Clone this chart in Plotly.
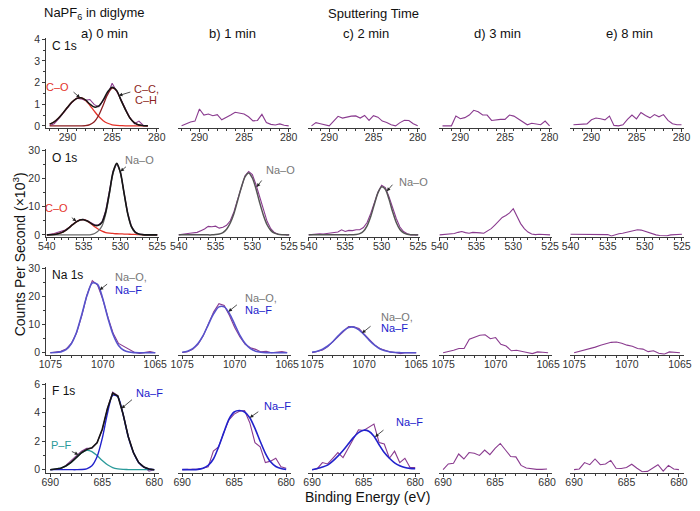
import plotly.graph_objects as go

# ---------------- energy grids (eV) ----------------
C1S_EV = [292.0, 291.5, 291.0, 290.5, 290.0, 289.5, 289.0, 288.5, 288.0, 287.5, 287.0, 286.5,
          286.0, 285.5, 285.0, 284.5, 284.0, 283.5, 283.0, 282.5, 282.0, 281.5, 281.0, 280.5, 280.0]
O1S_EV = [540.0, 539.5, 539.0, 538.5, 538.0, 537.5, 537.0, 536.5, 536.0, 535.5, 535.0, 534.5,
          534.0, 533.5, 533.0, 532.5, 532.0, 531.5, 531.0, 530.5, 530.0, 529.5, 529.0, 528.5,
          528.0, 527.5, 527.0, 526.5, 526.0, 525.5, 525.0]
NA1S_EV = [1075.0, 1074.5, 1074.0, 1073.5, 1073.0, 1072.5, 1072.0, 1071.5, 1071.0, 1070.5, 1070.0,
           1069.5, 1069.0, 1068.5, 1068.0, 1067.5, 1067.0, 1066.5, 1066.0, 1065.5, 1065.0]
F1S_EV = [690.0, 689.5, 689.0, 688.5, 688.0, 687.5, 687.0, 686.5, 686.0, 685.5, 685.0,
          684.5, 684.0, 683.5, 683.0, 682.5, 682.0, 681.5, 681.0, 680.5, 680.0]

# ---------------- C 1s (x10^3 counts/s) ----------------
c1s_raw_a = [0.02, 0.10, 0.32, 0.58, 0.85, 1.08, 1.28, 1.25, 1.18, 1.22, 0.98, 0.88, 1.18, 1.45,
             1.97, 1.62, 1.22, 0.78, 0.38, 0.10, 0.22, 0.02, 0.00]
c1s_co_a = [0.08, 0.18, 0.36, 0.60, 0.86, 1.10, 1.26, 1.30, 1.19, 0.95, 0.68, 0.43, 0.24, 0.12,
            0.05, 0.02, 0.01, 0.00, 0.00, 0.00, 0.00, 0.00, 0.00]
c1s_cc_a = [0.00, 0.00, 0.00, 0.00, 0.00, 0.00, 0.00, 0.00, 0.01, 0.06, 0.19, 0.49, 0.96, 1.46,
            1.74, 1.62, 1.17, 0.74, 0.36, 0.14, 0.04, 0.01, 0.00]
c1s_env_a = [0.08, 0.18, 0.36, 0.60, 0.86, 1.10, 1.26, 1.30, 1.20, 1.01, 0.87, 0.92, 1.20, 1.58,
             1.79, 1.64, 1.18, 0.74, 0.36, 0.14, 0.04, 0.01, 0.00]
c1s_raw_b = [0.00, 0.08, 0.18, 0.22, 0.78, 0.50, 0.55, 0.47, 0.52, 0.28, 0.38, 0.50, 0.63, 0.60,
             0.55, 0.42, 0.23, 0.25, 0.53, 0.15, 0.07, 0.04, 0.09, 0.03, 0.00]
c1s_raw_c = [0.00, 0.15, 0.10, 0.05, 0.00, 0.22, 0.44, 0.36, 0.41, 0.45, 0.46, 0.36, 0.48, 0.25,
             0.47, 0.40, 0.22, 0.16, 0.05, 0.00, 0.15, 0.26, 0.25, 0.10, 0.00]
c1s_raw_d = [0.00, 0.00, 0.00, 0.45, 0.33, 0.38, 0.50, 0.72, 0.65, 0.50, 0.50, 0.25, 0.28, 0.30,
             0.30, 0.50, 0.45, 0.32, 0.22, 0.05, 0.12, 0.10, 0.05, 0.22, 0.00]
c1s_raw_e = [0.05, 0.06, 0.08, 0.09, 0.28, 0.36, 0.33, 0.28, 0.45, 0.02, 0.00, 0.05, 0.30, 0.50,
             0.32, 0.62, 0.48, 0.37, 0.52, 0.42, 0.52, 0.25, 0.10, 0.05, 0.05]

# ---------------- O 1s ----------------
o1s_raw_a = [0.0, 0.2, 0.5, 0.9, 1.2, 1.7, 2.6, 3.7, 4.7, 5.4, 5.5, 5.0, 4.2, 3.6, 3.5, 4.6,
             8.6, 15.4, 22.6, 25.3, 22.4, 14.9, 7.6, 3.0, 1.0, 0.3, 0.1, 0.0, 0.0, 0.0, 0.0]
o1s_co_a = [0.0, 0.05, 0.15, 0.4, 0.8, 1.5, 2.5, 3.6, 4.6, 5.3, 5.4, 4.9, 4.0, 2.9, 2.0, 1.3,
            0.8, 0.6, 0.5, 0.4, 0.35, 0.3, 0.25, 0.2, 0.15, 0.1, 0.05, 0.0, 0.0, 0.0, 0.0]
o1s_nao_a = [0.0, 0.0, 0.0, 0.0, 0.0, 0.0, 0.0, 0.0, 0.0, 0.0, 0.0, 0.0, 0.1, 0.5, 1.4, 3.2,
             7.4, 14.4, 21.8, 25.0, 21.8, 14.4, 7.2, 2.7, 0.8, 0.2, 0.05, 0.0, 0.0, 0.0, 0.0]
o1s_env_a = [0.0, 0.05, 0.15, 0.4, 0.8, 1.5, 2.5, 3.6, 4.6, 5.3, 5.4, 4.9, 4.1, 3.4, 3.4, 4.5,
             8.2, 15.0, 22.3, 25.4, 22.15, 14.7, 7.45, 2.9, 0.95, 0.3, 0.1, 0.0, 0.0, 0.0, 0.0]
o1s_raw_b = [0.0, 0.3, 0.4, 0.6, 0.7, 0.9, 1.5, 2.1, 3.0, 2.9, 3.1, 2.4, 2.7, 3.4, 5.0, 8.2,
             12.6, 17.2, 21.0, 22.5, 21.4, 17.8, 13.2, 8.6, 4.8, 2.2, 0.8, 0.2, 0.1, 0.0, 0.0]
o1s_nao_b = [0.0, 0.0, 0.0, 0.0, 0.0, 0.0, 0.0, 0.0, 0.0, 0.0, 0.1, 0.3, 0.8, 2.0, 4.2, 7.6,
             12.2, 16.8, 20.6, 22.0, 20.2, 16.3, 11.4, 7.0, 3.6, 1.6, 0.6, 0.2, 0.05, 0.0, 0.0]
o1s_raw_c = [0.0, 0.2, 0.3, 0.4, 0.3, 0.5, 0.6, 0.7, 1.0, 1.8, 1.2, 1.6, 1.5, 1.8, 1.8, 2.6,
             4.4, 7.6, 11.4, 15.2, 17.6, 16.8, 13.6, 9.6, 5.8, 2.8, 1.2, 0.4, 0.0, 0.1, 0.0]
o1s_nao_c = [0.0, 0.0, 0.0, 0.0, 0.0, 0.0, 0.0, 0.0, 0.0, 0.0, 0.0, 0.0, 0.05, 0.13, 0.45, 1.3,
             3.2, 6.5, 10.9, 15.0, 17.1, 16.2, 12.7, 8.2, 4.4, 1.9, 0.7, 0.2, 0.05, 0.0, 0.0]
o1s_raw_d = [0.0, 0.1, 0.1, 0.2, 0.5, 0.9, 1.2, 0.8, 0.6, 0.9, 0.9, 0.7, 0.6, 1.3, 2.2, 3.5,
             4.9, 6.2, 6.9, 7.8, 9.3, 6.6, 4.0, 2.2, 1.0, 0.3, 0.1, 0.2, 0.2, 0.0, 0.0]
o1s_raw_e = [0.2, 0.2, 0.3, 0.3, 0.2, 0.2, 0.2, 0.3, 0.2, 0.2, 0.1, -0.4, 0.1, 0.4, 0.6, 0.9,
             1.3, 1.6, 1.8, 1.7, 1.3, 0.8, 0.3, 0.0, -0.2, -0.3, -0.3, 0.0, 0.1, 0.3, 0.2]

# ---------------- Na 1s ----------------
na_raw_a = [0.0, 0.2, 0.5, 1.3, 3.3, 7.0, 13.2, 20.6, 25.6, 24.0, 19.0, 12.5, 6.8, 3.3, 2.2,
            1.3, 0.2, -0.2, 0.0, 0.4, 0.0]
na_fit_a = [0.01, 0.07, 0.31, 1.1, 3.2, 7.3, 13.6, 20.4, 24.8, 24.3, 19.2, 12.2, 6.3, 2.6, 0.9,
            0.24, 0.05, 0.0, 0.0, 0.0, 0.0]
na_raw_b = [0.1, 0.4, 1.2, 3.0, 6.0, 10.4, 14.6, 17.4, 16.8, 13.2, 9.0, 5.6, 3.0, 1.8, 1.2,
            0.3, 0.5, 0.0, 0.2, 0.4, 0.1]
na_fit_b = [0.18, 0.56, 1.48, 3.3, 6.2, 10.1, 13.9, 16.3, 16.3, 13.9, 10.1, 6.2, 3.3, 1.48, 0.56,
            0.18, 0.05, 0.01, 0.0, 0.0, 0.0]
na_raw_c = [0.0, 0.4, 1.0, 2.2, 3.9, 5.8, 7.6, 9.3, 9.2, 8.6, 6.6, 4.6, 2.8, 1.5, 0.8,
            0.3, 0.1, -0.3, 0.1, 0.0, 0.0]
na_fit_c = [0.23, 0.57, 1.24, 2.4, 4.0, 6.0, 7.8, 9.0, 9.1, 8.1, 6.4, 4.4, 2.7, 1.4, 0.7,
            0.3, 0.1, 0.03, 0.0, 0.0, 0.0]
na_raw_d = [0.0, 0.4, 0.9, 1.5, 1.5, 4.8, 5.5, 6.2, 6.4, 5.0, 5.4, 3.0, 2.4, 0.7, 0.9,
            0.4, 0.1, -0.3, 0.3, 0.2, 0.0]
na_raw_e = [0.0, 0.5, 0.8, 1.3, 2.0, 2.7, 3.3, 3.7, 3.8, 3.4, 2.7, 2.3, 1.5, 1.3, 0.4,
            0.7, -0.2, -0.5, 0.3, 0.1, 0.0]

# ---------------- F 1s ----------------
f_raw_a = [0.0, 0.0, 0.05, 0.3, 0.65, 1.0, 1.3, 1.5, 1.5, 1.9, 2.8, 4.3, 5.45, 5.2, 3.9,
           2.35, 1.2, 0.5, 0.2, -0.1, 0.0]
f_pf_a = [0.0, 0.04, 0.1, 0.26, 0.51, 0.85, 1.18, 1.35, 1.27, 0.99, 0.64, 0.34, 0.15, 0.06, 0.02,
          0.01, 0.0, 0.0, 0.0, 0.0, 0.0]
f_naf_a = [0.0, 0.0, 0.0, 0.0, 0.0, 0.0, 0.01, 0.06, 0.27, 0.9, 2.2, 3.95, 5.22, 5.11, 3.89,
           2.3, 1.2, 0.5, 0.18, 0.05, 0.0]
f_env_a = [0.0, 0.04, 0.1, 0.26, 0.51, 0.85, 1.19, 1.41, 1.54, 1.89, 2.84, 4.29, 5.37, 5.17, 3.91,
           2.31, 1.2, 0.5, 0.18, 0.05, 0.0]
f_raw_b = [0.0, 0.0, 0.0, 0.05, 0.1, 0.2, 1.3, 1.6, 2.6, 3.5, 3.9, 4.1, 4.15, 3.3, 1.9,
           1.6, 0.5, 0.6, 0.8, 0.2, 0.1]
f_fit_b = [0.0, 0.0, 0.0, 0.02, 0.1, 0.3, 0.75, 1.6, 2.6, 3.55, 4.05, 4.15, 4.05, 3.65, 2.9,
           2.0, 1.15, 0.55, 0.22, 0.08, 0.02]
f_raw_c = [0.0, 0.07, 0.5, 0.4, 0.8, 1.2, 0.85, 1.5, 2.2, 2.8, 2.75, 2.95, 3.2, 1.9, 1.8,
           0.8, 1.3, 0.5, 0.8, 0.15, 0.15]
f_fit_c = [0.0, 0.08, 0.18, 0.32, 0.6, 0.95, 1.35, 1.8, 2.25, 2.6, 2.77, 2.7, 2.35, 1.75, 1.2,
           0.8, 0.48, 0.28, 0.15, 0.09, 0.06]
f_raw_d = [0.0, 0.4, 0.45, 1.1, 0.75, 1.2, 1.15, 1.0, 1.38, 1.05, 1.5, 1.84, 1.38, 0.92, 0.9,
           0.3, 0.12, 0.05, 0.02, 0.02, 0.05]
f_raw_e = [0.0, 0.05, 0.5, 0.35, 0.75, 0.35, 0.4, 0.65, 0.1, 0.08, 0.15, 0.38, 0.1, -0.15, -0.12,
           0.1, 0.35, -0.1, 0.3, 0.05, 0.0]

# ---------------- axes ----------------
X_TICKS = [[290, 285, 280], [540, 535, 530, 525], [1075, 1070, 1065], [690, 685, 680]]
Y_DTICK = [1, 10, 10, 2]
COL_TITLES = ["a) 0 min", "b) 1 min", "c) 2 min", "d) 3 min", "e) 8 min"]
ROW_LABELS = ["C 1s", "O 1s", "Na 1s", "F 1s"]

W, H = 700, 511
FONT = "Liberation Sans, Arial, sans-serif"
AXC = "#3a3a3a"
PURPLE = "#8a3b8f"
BLACK = "#151515"
RED = "#e4332a"
DRED = "#8c1f22"
GRAY = "#6a6a6a"
VIOLET = "#5753cc"
BLUE = "#2222cc"
TEAL = "#2a9a9a"

COLS_PX = [(39, 155), (174, 290), (307, 422), (441, 557), (575, 692)]
ROWS_PX = [(34, 125), (147, 236), (267, 356), (385, 476)]
X_RANGES = [[292.4, 279.7], [540.1, 524.7], [1075.4, 1064.6], [690.4, 679.5]]
Y_RANGES = [[-0.09, 4.045], [-0.7, 30.35], [-0.7, 30.35], [-0.207, 6.07]]


def sfx(r, c):
    k = r * 5 + c + 1
    return "" if k == 1 else str(k)


fig = go.Figure()

# (row, col, x, y, colour, width, smooth)
curves = [
    (0, 0, C1S_EV[:23], c1s_raw_a, PURPLE, 1.1, False),
    (0, 0, C1S_EV[:23], c1s_co_a, RED, 1.3, True),
    (0, 0, C1S_EV[:23], c1s_cc_a, DRED, 1.3, True),
    (0, 0, C1S_EV[:23], c1s_env_a, BLACK, 1.5, True),
    (0, 1, C1S_EV, c1s_raw_b, PURPLE, 1.1, False),
    (0, 2, C1S_EV, c1s_raw_c, PURPLE, 1.1, False),
    (0, 3, C1S_EV, c1s_raw_d, PURPLE, 1.1, False),
    (0, 4, C1S_EV, c1s_raw_e, PURPLE, 1.1, False),
    (1, 0, O1S_EV, o1s_raw_a, PURPLE, 1.1, False),
    (1, 0, O1S_EV, o1s_co_a, RED, 1.3, True),
    (1, 0, O1S_EV, o1s_nao_a, GRAY, 1.2, True),
    (1, 0, O1S_EV, o1s_env_a, BLACK, 1.6, True),
    (1, 1, O1S_EV, o1s_raw_b, PURPLE, 1.1, False),
    (1, 1, O1S_EV, o1s_nao_b, "#555555", 1.5, True),
    (1, 2, O1S_EV, o1s_raw_c, PURPLE, 1.1, False),
    (1, 2, O1S_EV, o1s_nao_c, "#555555", 1.5, True),
    (1, 3, O1S_EV, o1s_raw_d, PURPLE, 1.1, False),
    (1, 4, O1S_EV, o1s_raw_e, PURPLE, 1.1, False),
    (2, 0, NA1S_EV, na_raw_a, PURPLE, 1.1, False),
    (2, 0, NA1S_EV, na_fit_a, VIOLET, 1.6, True),
    (2, 1, NA1S_EV, na_raw_b, PURPLE, 1.1, False),
    (2, 1, NA1S_EV, na_fit_b, VIOLET, 1.6, True),
    (2, 2, NA1S_EV, na_raw_c, PURPLE, 1.1, False),
    (2, 2, NA1S_EV, na_fit_c, VIOLET, 1.6, True),
    (2, 3, NA1S_EV, na_raw_d, PURPLE, 1.1, False),
    (2, 4, NA1S_EV, na_raw_e, PURPLE, 1.1, False),
    (3, 0, F1S_EV, f_raw_a, PURPLE, 1.1, False),
    (3, 0, F1S_EV, f_pf_a, TEAL, 1.3, True),
    (3, 0, F1S_EV, f_naf_a, BLUE, 1.4, True),
    (3, 0, F1S_EV, f_env_a, BLACK, 1.6, False),
    (3, 1, F1S_EV, f_raw_b, PURPLE, 1.1, False),
    (3, 1, F1S_EV, f_fit_b, BLUE, 1.6, True),
    (3, 2, F1S_EV, f_raw_c, PURPLE, 1.1, False),
    (3, 2, F1S_EV, f_fit_c, BLUE, 1.6, True),
    (3, 3, F1S_EV, f_raw_d, PURPLE, 1.1, False),
    (3, 4, F1S_EV, f_raw_e, PURPLE, 1.1, False),
]

for r, c, xs, ys, col, lw, smooth in curves:
    s = sfx(r, c)
    fig.add_trace(go.Scatter(
        x=xs, y=ys, mode="lines", xaxis="x" + s, yaxis="y" + s,
        line=dict(color=col, width=lw, shape="spline" if smooth else "linear", smoothing=0.8),
        hoverinfo="skip", showlegend=False))

tickfont = dict(family=FONT, size=10.5, color="#333333")
axes = {}
for r in range(4):
    y0, y1 = ROWS_PX[r]
    for c in range(5):
        x0, x1 = COLS_PX[c]
        s = sfx(r, c)
        axes["xaxis" + s] = dict(
            domain=[x0 / W, x1 / W], range=X_RANGES[r], anchor="y" + s,
            showline=True, linecolor=AXC, linewidth=1, ticks="outside", ticklen=3,
            tickwidth=1, tickcolor=AXC, tickmode="array", tickvals=X_TICKS[r],
            tickfont=tickfont, ticklabelstandoff=-3,
            minor=dict(tickmode="linear", tick0=0, dtick=1, ticks="outside", ticklen=2,
                       tickcolor=AXC),
            showgrid=False, zeroline=False, fixedrange=True)
        ydict = dict(domain=[1 - y1 / H, 1 - y0 / H], range=Y_RANGES[r], anchor="x" + s,
                     showgrid=False, zeroline=False, fixedrange=True)
        if c == 0:
            ydict.update(showline=True, linecolor=AXC, linewidth=1, ticks="outside",
                         ticklen=3, tickwidth=1, tickcolor=AXC, tick0=0, dtick=Y_DTICK[r],
                         tickfont=tickfont,
                         minor=dict(tickmode="linear", tick0=0, dtick=Y_DTICK[r] / 2,
                                    ticks="outside", ticklen=2, tickcolor=AXC))
        else:
            ydict.update(visible=False)
        axes["yaxis" + s] = ydict

annotations = []

# arrows: (row, col, head x, head y, tail dx px, tail dy px)
arrows = [
    (0, 0, 288.6, 1.30, -8, -7),
    (0, 0, 284.25, 1.40, 13, -4),
    (1, 0, 530.0, 22.5, 7, -6),
    (1, 0, 536.0, 4.8, -6, -5),
    (1, 1, 529.4, 17.0, 6, -8),
    (1, 2, 529.3, 15.5, 7, -8),
    (2, 0, 1070.3, 22.3, 9, -7),
    (2, 1, 1070.6, 14.6, 10, -8),
    (2, 2, 1070.2, 7.0, 10, -8),
    (3, 0, 683.15, 4.3, 12, -10),
    (3, 0, 687.3, 1.05, -8, -4),
    (3, 1, 683.5, 3.65, 10, -7),
    (3, 2, 683.9, 2.3, 10, -8),
]
for r, c, hx, hy, dx, dy in arrows:
    s = sfx(r, c)
    annotations.append(dict(
        xref="x" + s, yref="y" + s, x=hx, y=hy, ax=dx, ay=dy, text="", showarrow=True,
        arrowhead=2, arrowsize=0.9, arrowwidth=0.8, arrowcolor="#222222"))

# curve labels: (text, x px, y px, anchor, colour)
labels = [
    ("C–O", 64, 83, "right", RED),
    ("C–C,", 127, 85, "left", DRED),
    ("C–H", 128, 97, "left", DRED),
    ("Na–O", 118, 158, "left", "#777777"),
    ("C–O", 63, 207, "right", RED),
    ("Na–O", 262, 168, "left", "#777777"),
    ("Na–O", 398, 180, "left", "#777777"),
    ("Na–O,", 107, 277, "left", "#777777"),
    ("Na–F", 107, 290, "left", BLUE),
    ("Na–O,", 240, 298, "left", "#777777"),
    ("Na–F", 240, 310, "left", BLUE),
    ("Na–O,", 380, 318, "left", "#777777"),
    ("Na–F", 380, 329, "left", BLUE),
    ("Na–F", 129, 395, "left", BLUE),
    ("P–F", 67, 448, "right", TEAL),
    ("Na–F", 260, 408, "left", BLUE),
    ("Na–F", 395, 424, "left", BLUE),
]
for txt, px, py, anc, col in labels:
    annotations.append(dict(
        xref="paper", yref="paper", x=px / W, y=1 - py / H, text=txt, showarrow=False,
        xanchor=anc, yanchor="middle", font=dict(family=FONT, size=11, color=col)))

for txt, py in zip(ROW_LABELS, [42, 156, 275, 393]):
    annotations.append(dict(
        xref="paper", yref="paper", x=43 / W, y=1 - py / H, text=txt, showarrow=False,
        xanchor="left", yanchor="middle", font=dict(family=FONT, size=12, color="#111111")))

for txt, px in zip(COL_TITLES, [99, 230, 366, 501, 636]):
    annotations.append(dict(
        xref="paper", yref="paper", x=px / W, y=1 - 29 / H, text=txt, showarrow=False,
        xanchor="center", yanchor="middle", font=dict(family=FONT, size=13, color="#111111")))

annotations += [
    dict(xref="paper", yref="paper", x=88 / W, y=1 - 9 / H, text="NaPF<sub>6</sub> in diglyme",
         showarrow=False, xanchor="center", yanchor="middle",
         font=dict(family=FONT, size=13, color="#111111")),
    dict(xref="paper", yref="paper", x=374 / W, y=1 - 9 / H, text="Sputtering Time",
         showarrow=False, xanchor="center", yanchor="middle",
         font=dict(family=FONT, size=13, color="#111111")),
    dict(xref="paper", yref="paper", x=368 / W, y=1 - 501 / H, text="Binding Energy (eV)",
         showarrow=False, xanchor="center", yanchor="middle",
         font=dict(family=FONT, size=14, color="#111111")),
    dict(xref="paper", yref="paper", x=11 / W, y=1 - 254 / H,
         text="Counts Per Second (×10<sup>3</sup>)", textangle=-90,
         showarrow=False, xanchor="center", yanchor="middle",
         font=dict(family=FONT, size=14, color="#111111")),
]

fig.update_layout(
    width=W, height=H, margin=dict(l=0, r=0, t=0, b=0),
    paper_bgcolor="white", plot_bgcolor="white",
    showlegend=False, hovermode=False, annotations=annotations, **axes)

fig.write_html("out.html", config={"displayModeBar": False},
               post_script="document.body.style.margin='0';"
                           "document.documentElement.style.overflow='hidden';")
